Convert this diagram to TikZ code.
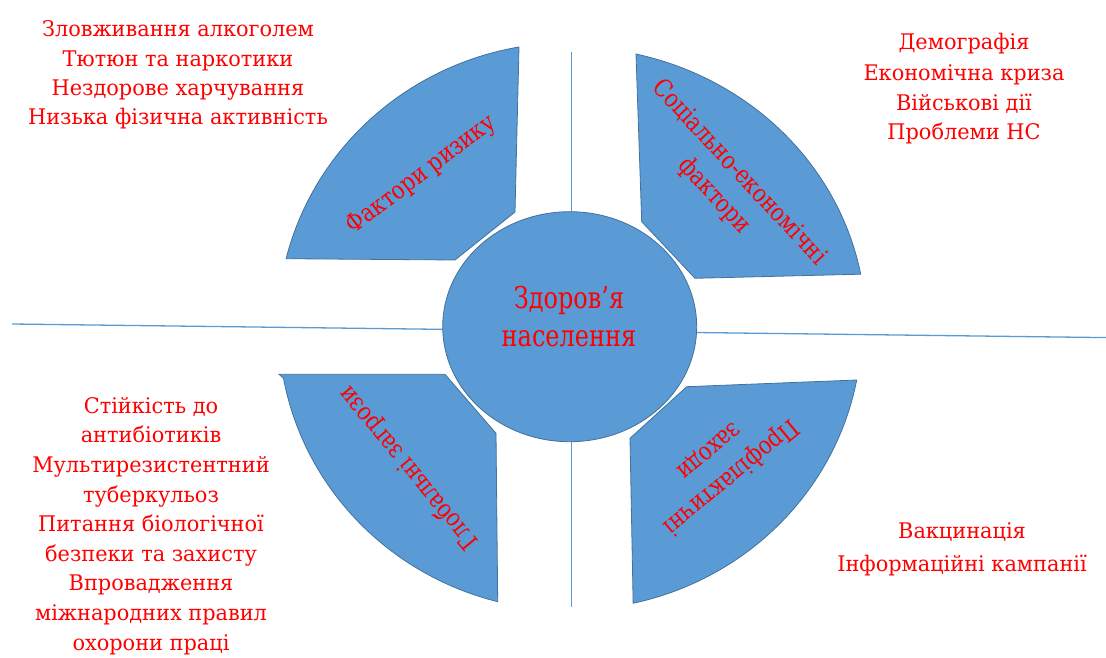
\documentclass[tikz,border=0pt]{standalone}
\usepackage{fontspec}
\setmainfont{DejaVu Serif}
\newfontfamily\listfont{DejaVu Serif}[FakeStretch=0.97]
\newfontfamily\tagfont{DejaVu Serif}[FakeStretch=0.84]
\newfontfamily\hubfont{DejaVu Serif}[FakeStretch=0.80]
\usetikzlibrary{shapes.geometric}
\definecolor{sectorblue}{HTML}{5B9BD5}
\definecolor{sectoredge}{HTML}{41719C}
\definecolor{axisblue}{HTML}{5B9BD5}
\definecolor{labelred}{HTML}{FF0000}

\begin{document}
\begin{tikzpicture}[x=1pt,y=1pt,
  sector/.style={fill=sectorblue, draw=sectoredge, line width=0.8pt, line join=miter},
  axis/.style={draw=axisblue, line width=1.3pt},
  hub/.style={ellipse, fill=sectorblue, draw=sectoredge, line width=0.8pt,
    minimum width=254pt, minimum height=230pt, inner sep=0pt},
  hubtext/.style={text=labelred, font=\hubfont\fontsize{30}{38}\selectfont, inner sep=0pt, anchor=base},
  listtext/.style={text=labelred, font=\listfont\fontsize{21.5}{29.6}\selectfont, inner sep=0pt, anchor=base},
  tag/.style={text=labelred, font=\tagfont\fontsize{25}{34}\selectfont, align=center, inner sep=0pt}]

\useasboundingbox (0,0) rectangle (1106,657);

% axes behind everything
\coordinate (vtop) at (571.7,605.3);
\coordinate (vbot) at (571.7,50.3);
\coordinate (hleft) at (12,333);
\coordinate (hright) at (1106,319.4);
\draw[axis] (vtop) -- (vbot);
\draw[axis] (hleft) -- (hright);

% four quadrant sectors
\draw[sector] (519,610) -- (515,445) -- (455,397) -- (286.1,398.3)
  arc[start angle=166.1, end angle=100, x radius=292.5, y radius=284.4] -- cycle;
\draw[sector] (636,603) -- (641.7,435.3) -- (695,378.7) -- (860.7,382.8)
  arc[start angle=10.87, end angle=77.1, x radius=296, y radius=280] -- cycle;
\draw[sector] (445,282.7) -- (496,223.7) -- (497.7,55.3)
  arc[start angle=255.6, end angle=190.4, x radius=291.5, y radius=283.6] -- (279,282.7) -- cycle;
\draw[sector] (686.7,270.3) -- (856.7,277)
  arc[start angle=-10.8, end angle=-77.5, x radius=291.9, y radius=283] -- (630,218.7) -- cycle;

% central ellipse
\node[hub] (hub) at (569.7,330.3) {};
\node[hubtext] (hub-1) at (569,348.7) {Здоров’я};
\node[hubtext] (hub-2) at (569,310.3) {населення};

% sector captions
\node[tag, rotate=37.2] (risk) at (421.5,482) {Фактори ризику};
\node[tag, rotate=-47] (socio) at (726.6,472.5) {Соціально-економічні\\фактори};
\node[tag, rotate=129.6] (global) at (409,189) {Глобальні загрози};
\node[tag, rotate=219.6] (prevent) at (720.5,192.5) {Профілактичні\\заходи};

% lists beside the sectors
\foreach \y/\t [count=\i] in {620.3/Зловживання алкоголем, 590.9/Тютюн та наркотики,
    561.5/Нездорове харчування, 532.1/Низька фізична активність}
  \node[listtext] (riskitem-\i) at (178,\y) {\t};
\foreach \y/\t [count=\i] in {607/Демографія, 576.7/Економічна криза,
    546.9/Військові дії, 517/Проблеми НС}
  \node[listtext] (socioitem-\i) at (964,\y) {\t};
\foreach \y/\t [count=\i] in {243.7/Стійкість до, 214.1/антибіотиків, 184.5/Мультирезистентний,
    154.9/туберкульоз, 125.3/Питання біологічної, 95.7/безпеки та захисту,
    66.1/Впровадження, 36.5/міжнародних правил, 6.9/охорони праці}
  \node[listtext] (globalitem-\i) at (151,\y) {\t};
\foreach \y/\t [count=\i] in {118.7/Вакцинація, 86/Інформаційні кампанії}
  \node[listtext] (preventitem-\i) at (962,\y) {\t};
\end{tikzpicture}
\end{document}
